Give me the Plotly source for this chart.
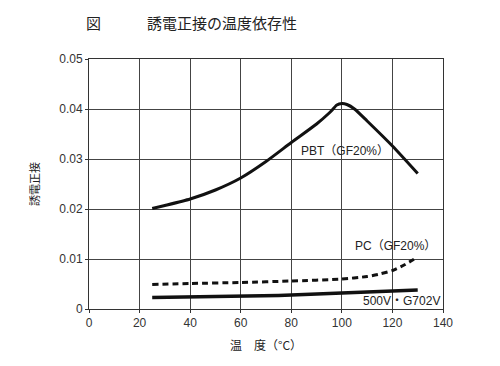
import plotly.graph_objects as go

# Data
pbt_x = [25, 30, 40, 50, 60, 70, 80, 90, 95, 96, 98, 100, 102, 105, 110, 120, 130]
pbt_y = [0.0201, 0.0207, 0.0220, 0.0238, 0.0262, 0.0295, 0.0333, 0.0370, 0.0392, 0.0397, 0.0408, 0.0411, 0.0409, 0.0400, 0.0376, 0.0326, 0.0271]

pc_x = [25, 40, 60, 80, 100, 110, 115, 120, 125, 130]
pc_y = [0.0049, 0.0051, 0.0053, 0.0056, 0.0060, 0.0065, 0.0070, 0.0077, 0.0089, 0.0104]

g_x = [25, 50, 75, 100, 130]
g_y = [0.0023, 0.0025, 0.0027, 0.0032, 0.0038]

x_ticks = [0, 20, 40, 60, 80, 100, 120, 140]
y_ticks = [0, 0.01, 0.02, 0.03, 0.04, 0.05]
y_tick_labels = ["0", "0.01", "0.02", "0.03", "0.04", "0.05"]

labels = ["PBT（GF20%）", "PC（GF20%）", "500V・G702V"]

FONT = "Liberation Sans, Noto Sans CJK JP, sans-serif"
JP = "Noto Sans CJK JP, sans-serif"

fig = go.Figure()
fig.add_trace(go.Scatter(x=pbt_x, y=pbt_y, mode="lines", line=dict(color="#111", width=3, shape="spline", smoothing=0.6), showlegend=False))
fig.add_trace(go.Scatter(x=pc_x, y=pc_y, mode="lines", line=dict(color="#111", width=3, dash="6px,4px", shape="spline", smoothing=0.6), showlegend=False))
fig.add_trace(go.Scatter(x=g_x, y=g_y, mode="lines", line=dict(color="#111", width=3.5, shape="spline", smoothing=0.6), showlegend=False))

# Curve labels
fig.add_annotation(x=83, y=0.0317, xref="x", yref="y", text=labels[0], showarrow=False, xanchor="left",
                   font=dict(family=FONT, size=12, color="#222"))
fig.add_annotation(x=104.5, y=0.0126, xref="x", yref="y", text=labels[1], showarrow=False, xanchor="left",
                   font=dict(family=FONT, size=12, color="#222"))
fig.add_annotation(x=107.5, y=0.0016, xref="x", yref="y", text=labels[2], showarrow=False, xanchor="left",
                   font=dict(family=FONT, size=12, color="#222"))

pw, ph = 500 - 89 - 57, 366 - 59 - 57
def px(xp):
    return (xp - 89) / pw
def py(yp):
    return (366 - 57 - yp) / ph

# Title
fig.add_annotation(x=px(93), y=py(22), xref="paper", yref="paper", text="図", showarrow=False,
                   xanchor="center", yanchor="middle",
                   font=dict(family=JP, size=15, color="#222"))
fig.add_annotation(x=px(145), y=py(22), xref="paper", yref="paper", text="誘電正接の温度依存性", showarrow=False,
                   xanchor="left", yanchor="middle",
                   font=dict(family=JP, size=15, color="#222"))

fig.update_layout(
    width=500, height=366,
    margin=dict(l=89, r=57, t=59, b=57),
    paper_bgcolor="white", plot_bgcolor="white",
    font=dict(family=FONT, size=11, color="#333"),
    xaxis=dict(range=[0, 140], tickvals=x_ticks, showgrid=True, gridcolor="#444", gridwidth=1,
               showline=True, linecolor="#333", linewidth=1, mirror=True, zeroline=False,
               ticks="outside", ticklen=3, tickcolor="#333",
               title=dict(text="温　度（°C）", font=dict(family=JP, size=12, color="#222"), standoff=12),
               tickfont=dict(size=12, color="#333")),
    yaxis=dict(range=[0, 0.05], tickvals=y_ticks, ticktext=y_tick_labels, showgrid=True, gridcolor="#444", gridwidth=1,
               showline=True, linecolor="#333", linewidth=1, mirror=True, zeroline=False,
               ticks="outside", ticklen=3, tickcolor="#333",
               title=dict(text="誘電正接", font=dict(family=JP, size=11, color="#222"), standoff=17),
               tickfont=dict(size=12, color="#333")),
)

fig.write_html("out.html", config={"displayModeBar": False},
               post_script="document.body.style.margin='0';document.body.style.padding='0';")
